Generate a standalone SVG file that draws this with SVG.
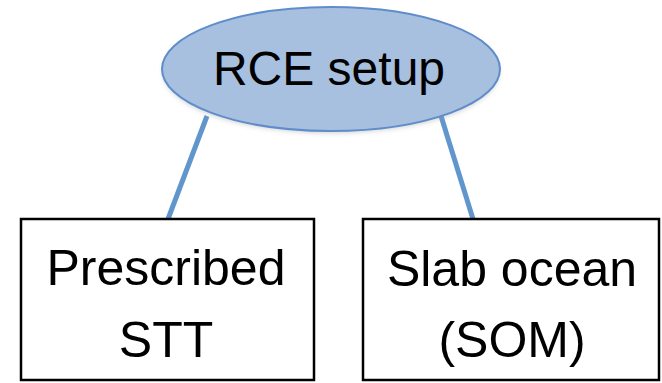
<svg xmlns="http://www.w3.org/2000/svg" width="662" height="383" viewBox="0 0 662 383">
  <style>
    .lbl { font-family: "Liberation Sans", Arial, sans-serif; fill: #000; text-anchor: middle; }
    .box { fill: #fff; stroke: #000; stroke-width: 2.5; }
    .conn { stroke: #6196cd; stroke-width: 5; fill: none; }
  </style>
  <defs>
    <filter id="sh" x="-10%" y="-10%" width="120%" height="130%">
      <feGaussianBlur stdDeviation="2.5"/>
    </filter>
  </defs>
  <rect width="662" height="383" fill="#fff"/>
  <g id="connectors">
    <line class="conn" x1="207" y1="116" x2="168" y2="219"/>
    <line class="conn" x1="441" y1="116" x2="473" y2="219"/>
  </g>
  <g id="rce">
    <ellipse cx="331" cy="72" rx="168" ry="61" fill="#999" opacity="0.45" filter="url(#sh)"/>
    <ellipse cx="331" cy="69" rx="169" ry="62" fill="#a7c0e0" stroke="#5f8ccb" stroke-width="2"/>
    <text class="lbl" x="329" y="85" font-size="48">RCE setup</text>
  </g>
  <g id="prescribed">
    <rect class="box" x="21" y="219" width="293" height="161"/>
    <text class="lbl" x="166" y="285" font-size="50">Prescribed</text>
    <text class="lbl" x="166" y="357" font-size="50">STT</text>
  </g>
  <g id="slab">
    <rect class="box" x="363" y="219" width="296" height="161"/>
    <text class="lbl" x="512" y="286" font-size="50">Slab ocean</text>
    <text class="lbl" x="512" y="357" font-size="50">(SOM)</text>
  </g>
</svg>
